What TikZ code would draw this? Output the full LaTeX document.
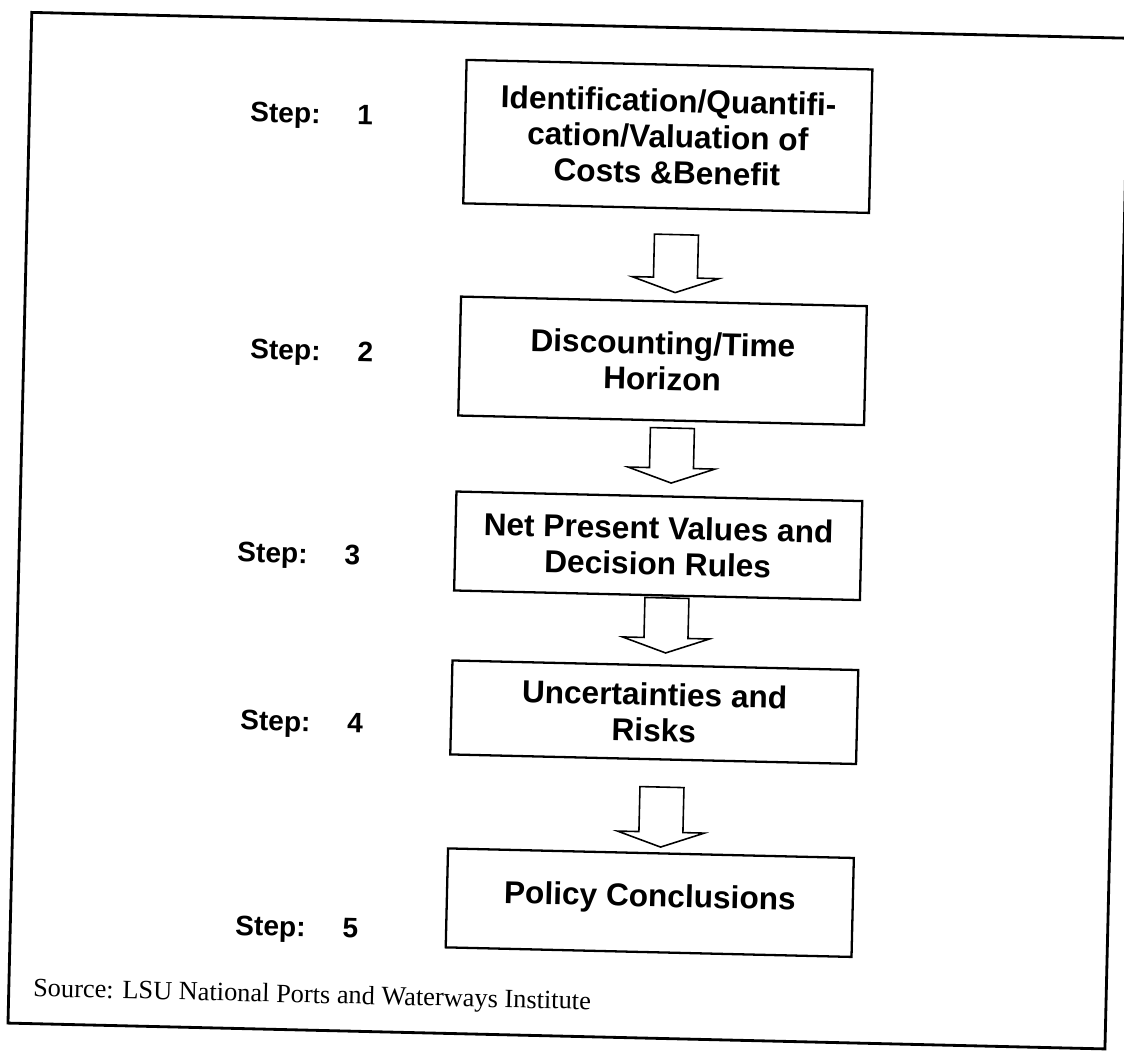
\documentclass[tikz,border=0pt]{standalone}
\usepackage{fontspec}
\setmainfont{Liberation Serif}
\setsansfont{Liberation Sans}
\begin{document}
\begin{tikzpicture}[x=0.02cm,y=-0.02cm,
  box/.style={draw, line width=1.3pt, minimum width=8.12cm, inner sep=0pt, align=center,
    font=\sffamily\bfseries\fontsize{18}{20.4}\selectfont},
  steplab/.style={anchor=west, inner sep=0pt, font=\sffamily\bfseries\fontsize{16}{19}\selectfont},
  srclab/.style={anchor=west, inner sep=0pt, font=\rmfamily\fontsize{15}{18}\selectfont},
  frameline/.style={draw, line width=1.6pt},
  barrow/.style={draw, line width=0.9pt, line join=miter},
  pics/blockarrow/.style={code={
    \draw[barrow] (-22,0) -- (-22,#1) -- (-43.5,#1) -- (0,{#1+15}) -- (43.5,#1) -- (22,#1) -- (22,0) -- cycle;
  }}
]
\useasboundingbox (0,0) rectangle (1124,1062);
\begin{scope}[rotate around={-1.35:(562,531)}, transform shape]
  % outer frame
  \draw[frameline] (19.7,25) rectangle (1117,1036);

  % step boxes
  \node[box, minimum height=2.87cm] (b1) at (658.5,134)
    {Identification/Quantifi-\\cation/Valuation of\\Costs \&Benefit};
  \node[box, minimum height=2.38cm] (b2) at (658.5,358.5)
    {Discounting/Time\\Horizon};
  \node[box, minimum height=1.98cm] (b3) at (658.5,543.5)
    {Net Present Values and\\Decision Rules};
  \node[box, minimum height=1.88cm] (b4) at (658.5,710)
    {Uncertainties and\\Risks};
  \node[box, minimum height=1.98cm, text depth=0.29cm] (b5) at (658.5,900.5)
    {Policy Conclusions};

  % block arrows between the boxes
  \coordinate (a1) at (669.5,232);
  \coordinate (a2) at (670,425.5);
  \coordinate (a3) at (668.5,595.5);
  \coordinate (a4) at (668,784.7);
  \pic at (a1) {blockarrow=43};
  \pic at (a2) {blockarrow=40};
  \pic at (a3) {blockarrow=40};
  \pic at (a4) {blockarrow=45};

  % step labels
  \node[steplab] (s1) at (240.2,122.4) {Step:\hspace{21pt}1};
  \node[steplab] (s2) at (245.8,359.4) {Step:\hspace{21pt}2};
  \node[steplab] (s3) at (237.6,562.7) {Step:\hspace{21pt}3};
  \node[steplab] (s4) at (244.5,730.6) {Step:\hspace{21pt}4};
  \node[steplab] (s5) at (244.4,935.7) {Step:\hspace{21pt}5};

  % source
  \node[srclab] (src) at (43.8,1002.5) {Source: LSU National Ports and Waterways Institute};
\end{scope}
\end{tikzpicture}
\end{document}
